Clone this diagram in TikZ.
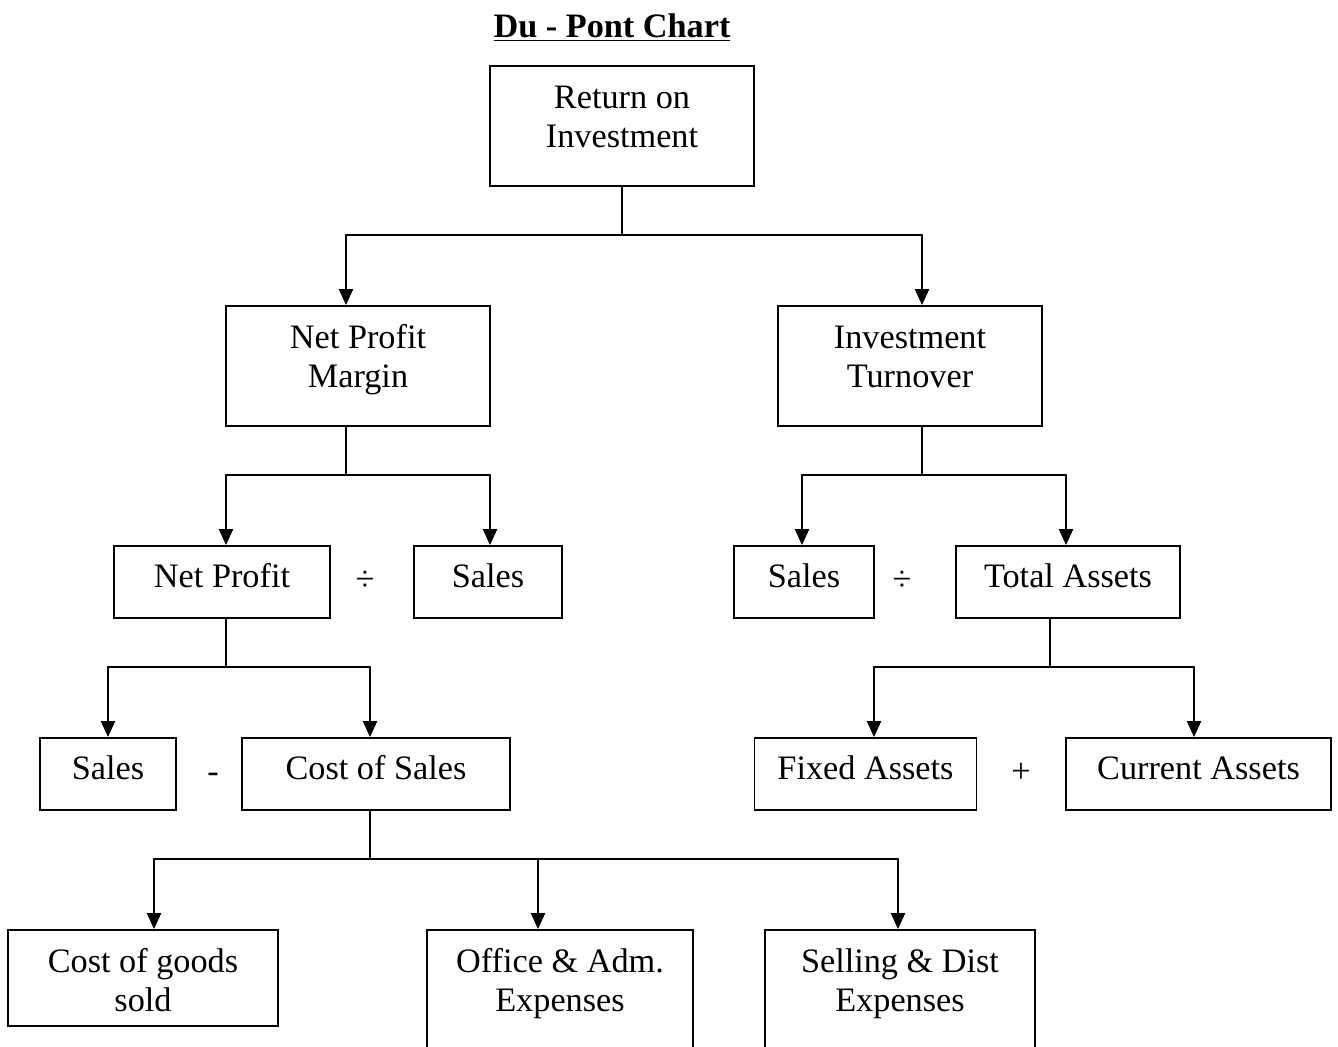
\documentclass[tikz,border=0pt]{standalone}
\usepackage{fontspec}
\setmainfont{Liberation Serif}
\usetikzlibrary{arrows.meta,calc}
\begin{document}
\begin{tikzpicture}[x=0.02cm,y=-0.02cm,
  every node/.style={font=\fontsize{19.5}{22.7}\selectfont},
  box/.style={draw,line width=1.1pt,anchor=north,align=center,inner ysep=0pt},
  bigbox/.style={box,text height=1.64cm,text depth=0.76cm},
  smallbox/.style={box,text height=0.84cm,text depth=0.6cm},
  costbox/.style={box,text height=1.64cm,text depth=0.28cm},
  openbox/.style={box,text height=1.64cm,text depth=1.78cm},
  op/.style={anchor=base},
  link/.style={line width=1pt},
  arr/.style={line width=1pt,-{Triangle[length=9pt,width=8pt]}}]
\useasboundingbox (0,0) rectangle (1338,1046);
\node (title) [op,font=\fontsize{19.5}{22.7}\selectfont\bfseries] at (612,37) {\underline{Du - Pont Chart}};
\node (roi) [bigbox,minimum width=5.28cm] at (622,65) {Return on\\Investment};
\node (npm) [bigbox,minimum width=5.28cm] at (358,305) {Net Profit\\Margin};
\node (it) [bigbox,minimum width=5.28cm] at (910,305) {Investment\\Turnover};
\node (np) [smallbox,minimum width=4.32cm] at (222,545) {Net Profit};
\node (div1) [op] at (365,590) {÷};
\node (sl1) [smallbox,minimum width=2.96cm] at (488,545) {Sales};
\node (sl2) [smallbox,minimum width=2.8cm] at (804,545) {Sales};
\node (div2) [op] at (902,590) {÷};
\node (ta) [smallbox,minimum width=4.48cm] at (1068,545) {Total Assets};
\node (sl3) [smallbox,minimum width=2.72cm] at (108,737) {Sales};
\node (minus) [op] at (213,782) {-};
\node (cos) [smallbox,minimum width=5.36cm] at (376,737) {Cost of Sales};
\node (fa) [smallbox,minimum width=4.44cm] at (865.5,737) {Fixed Assets};
\node (plus) [op] at (1021,782) {+};
\node (ca) [smallbox,minimum width=5.3cm] at (1198.5,737) {Current Assets};
\node (cgs) [costbox,minimum width=5.4cm] at (143,929) {Cost of goods\\sold};
\node (oae) [openbox,minimum width=5.32cm] at (560,929) {Office \& Adm.\\Expenses};
\node (sde) [openbox,minimum width=5.4cm] at (900,929) {Selling \& Dist\\Expenses};
\draw[link] (roi.south) -- ++(0,48) coordinate (j1);
\draw[arr] (j1) -| ($(npm.north)+(-12,0)$);
\draw[arr] (j1) -| ($(it.north)+(12,0)$);
\draw[link] ($(npm.south)+(-12,0)$) -- ++(0,48) coordinate (j2);
\draw[arr] (j2) -| ($(np.north)+(4,0)$);
\draw[arr] (j2) -| ($(sl1.north)+(2,0)$);
\draw[link] ($(it.south)+(12,0)$) -- ++(0,48) coordinate (j3);
\draw[arr] (j3) -| ($(sl2.north)+(-2,0)$);
\draw[arr] (j3) -| ($(ta.north)+(-2,0)$);
\draw[link] ($(np.south)+(4,0)$) -- ++(0,48) coordinate (j4);
\draw[arr] (j4) -| (sl3.north);
\draw[arr] (j4) -| ($(cos.north)+(-6,0)$);
\draw[link] ($(ta.south)+(-18,0)$) -- ++(0,48) coordinate (j5);
\draw[arr] (j5) -| ($(fa.north)+(8.5,0)$);
\draw[arr] (j5) -| ($(ca.north)+(-4.5,0)$);
\draw[link] ($(cos.south)+(-6,0)$) -- ++(0,48) coordinate (j6);
\draw[arr] (j6) -| ($(cgs.north)+(11,0)$);
\draw[arr] (j6) -| ($(oae.north)+(-22,0)$);
\draw[arr] (j6) -| ($(sde.north)+(-2,0)$);
\end{tikzpicture}
\end{document}
